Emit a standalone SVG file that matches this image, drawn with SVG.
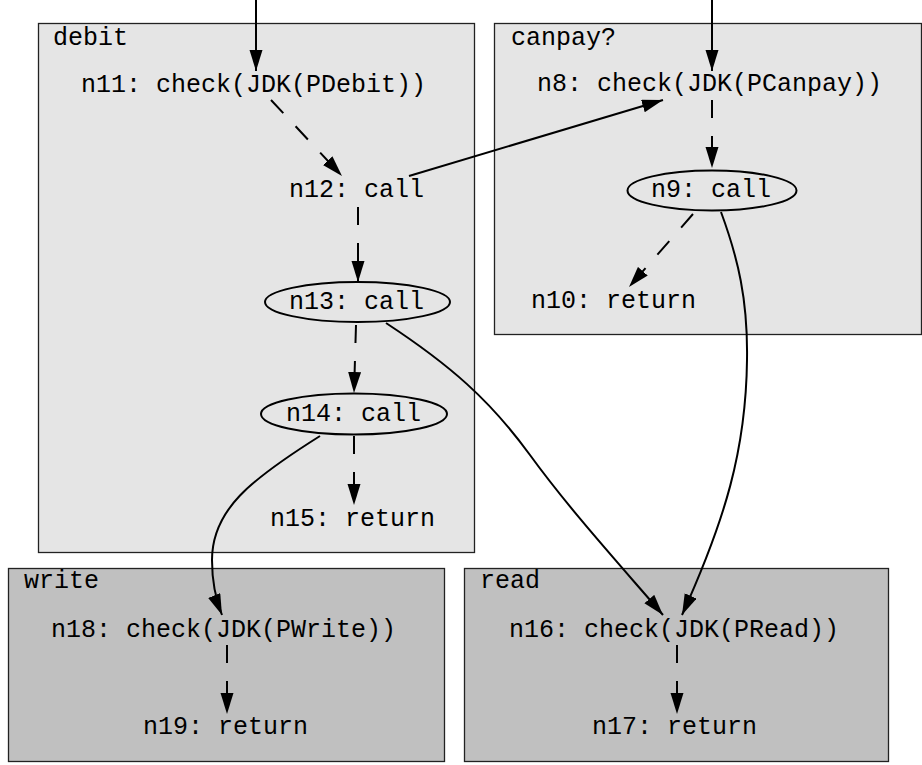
<svg xmlns="http://www.w3.org/2000/svg" width="922" height="765" viewBox="0 0 922 765">
<style>
  .cl1 { fill: #e5e5e5; stroke: #222; stroke-width: 1.3; }
  .cl2 { fill: #c0c0c0; stroke: #222; stroke-width: 1.3; }
  text { font-family: "Liberation Mono", "Courier New", monospace; font-size: 25px; fill: #000; }
  .e { fill: none; stroke: #000; stroke-width: 2; }
  .d { stroke-dasharray: 18 18; }
  .el { fill: none; stroke: #000; stroke-width: 2; }
</style>
<defs>
  <marker id="ah" markerUnits="userSpaceOnUse" markerWidth="22" markerHeight="14" refX="21" refY="6.5" orient="auto">
    <path d="M0,0 L21,6.5 L0,13 z" fill="#000"/>
  </marker>
</defs>
<rect width="922" height="765" fill="#fff"/>
<g id="cluster-debit">
  <rect class="cl1" x="38.5" y="23.5" width="436" height="529"/>
  <text x="53" y="45">debit</text>
</g>
<g id="cluster-canpay">
  <rect class="cl1" x="494.5" y="23.5" width="427" height="311"/>
  <text x="511" y="45">canpay?</text>
</g>
<g id="cluster-write">
  <rect class="cl2" x="8.5" y="568.5" width="436" height="193"/>
  <text x="24" y="588">write</text>
</g>
<g id="cluster-read">
  <rect class="cl2" x="464.5" y="568.5" width="424" height="193"/>
  <text x="480" y="588">read</text>
</g>
<g id="n11"><text x="81" y="92">n11: check(JDK(PDebit))</text></g>
<g id="n12"><text x="289" y="197">n12: call</text></g>
<g id="n13"><ellipse class="el" cx="357.5" cy="302" rx="92.5" ry="20"/><text x="289" y="309">n13: call</text></g>
<g id="n14"><ellipse class="el" cx="354" cy="414" rx="93" ry="20.5"/><text x="286" y="421">n14: call</text></g>
<g id="n15"><text x="270" y="526">n15: return</text></g>
<g id="n8"><text x="537" y="91">n8: check(JDK(PCanpay))</text></g>
<g id="n9"><ellipse class="el" cx="712" cy="190.5" rx="84.5" ry="20"/><text x="651" y="197">n9: call</text></g>
<g id="n10"><text x="531" y="308">n10: return</text></g>
<g id="n18"><text x="51" y="637">n18: check(JDK(PWrite))</text></g>
<g id="n19"><text x="143" y="734">n19: return</text></g>
<g id="n16"><text x="509" y="637">n16: check(JDK(PRead))</text></g>
<g id="n17"><text x="592" y="734">n17: return</text></g>
<g id="edges">
  <path class="e" d="M256,0 L256,71" marker-end="url(#ah)"/>
  <path class="e" d="M712,0 L712,71" marker-end="url(#ah)"/>
  <path class="e d" d="M271,100 L342,176" marker-end="url(#ah)"/>
  <path class="e" d="M409,176 L663,100" marker-end="url(#ah)"/>
  <path class="e d" d="M358,207 L358,282" marker-end="url(#ah)"/>
  <path class="e d" d="M356,325 L354,393" marker-end="url(#ah)"/>
  <path class="e d" d="M354,436 L354,505" marker-end="url(#ah)"/>
  <path class="e" d="M320,436 C250,480 212,510 212,560 C212,585 216,600 222,615" marker-end="url(#ah)"/>
  <path class="e" d="M386,323 C450,365 490,400 530,455 C570,510 620,565 663,615" marker-end="url(#ah)"/>
  <path class="e d" d="M712,100 L712,168" marker-end="url(#ah)"/>
  <path class="e d" d="M693,214 L629,287" marker-end="url(#ah)"/>
  <path class="e" d="M721,212 C738,258 748,300 747,360 C746,450 725,520 682,615" marker-end="url(#ah)"/>
  <path class="e d" d="M227,645 L227,714" marker-end="url(#ah)"/>
  <path class="e d" d="M677,645 L677,714" marker-end="url(#ah)"/>
</g>
</svg>
